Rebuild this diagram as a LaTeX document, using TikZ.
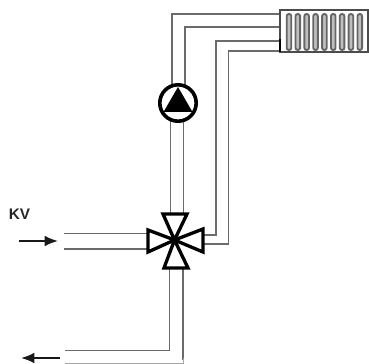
\documentclass[tikz,border=0pt]{standalone}
\usepackage{fontspec}
\setmainfont{Liberation Sans}
\usetikzlibrary{arrows.meta}
\tikzset{
  pipe/.style={draw=black!58,line width=1.4pt,line join=miter},
  pipethin/.style={draw=black!35,line width=0.7pt},
  valvepart/.style={draw=black,line width=2.5pt,line join=miter,fill=white},
  flow/.style={draw=black!90,line width=1.3pt,-{Latex[length=10pt,width=8pt]}},
  fin/.style={draw=black!60,line width=1.4pt,rounded corners=1.6pt,fill=black!25}
}
\begin{document}
\begin{tikzpicture}[x=0.75pt,y=-0.75pt]
\useasboundingbox (0,0) rectangle (369,364);
% named points
\coordinate (vc) at (174.5,240);
\coordinate (pc) at (178,103);
% pipes to radiator
\draw[pipe] (172,86) -- (172,14) -- (280,14);
\draw[pipe] (185,86) -- (185,27) -- (280,27);
\draw[pipe] (204,235) -- (216,235) -- (216,41) -- (280,41);
\draw[pipe] (204,244) -- (228.5,244) -- (228.5,51) -- (280,51);
% pump to valve
\draw[pipe] (170.5,120) -- (170.5,216);
\draw[pipe] (183.5,120) -- (183.5,216);
% feed
\draw[pipe] (64,233.5) -- (148,233.5);
\draw[pipe] (64,249) -- (148,249);
% return
\draw[pipe] (169.5,266) -- (169.5,350.5) -- (65,350.5);
\draw[pipe] (183,266) -- (183,360);
\draw[pipethin] (65,363.4) -- (183,363.4) -- (183,358);
% radiator
\draw[draw=black!70,line width=1.5pt,fill=white] (280,10) rectangle (368.5,52.5);
\draw[black,line width=2pt] (280,39) -- (280,52);
\foreach \i in {0,...,8}{
  \draw[fin] ({289+8.85*\i-2.3},14) rectangle ({289+8.85*\i+2.3},50);
}
% pump
\node[circle,draw=black,line width=2.7pt,fill=white,minimum size=27.3pt,inner sep=0pt] (pump) at (pc) {};
\fill[black] (178,87) -- (192.5,112) -- (163.5,112) -- cycle;
% valve
\draw[valvepart] (vc) -- (163,214) -- (187,214) -- cycle;
\draw[valvepart] (vc) -- (164,268) -- (188,268) -- cycle;
\draw[valvepart] (vc) -- (148,230) -- (148,252) -- cycle;
\draw[valvepart] (vc) -- (203,229) -- (203,252) -- cycle;
\fill[black] (vc) circle (3.2);
% arrows
\coordinate (a1) at (19,241); \coordinate (a2) at (58,241);
\coordinate (b1) at (60,358); \coordinate (b2) at (21,358);
\draw[flow] (a1) -- (a2);
\draw[flow] (b1) -- (b2);
\node[font=\fontsize{11.5pt}{13pt}\selectfont\bfseries,text=black!85,inner sep=0pt] (kv) at (19.5,214) {KV};
\end{tikzpicture}
\end{document}
